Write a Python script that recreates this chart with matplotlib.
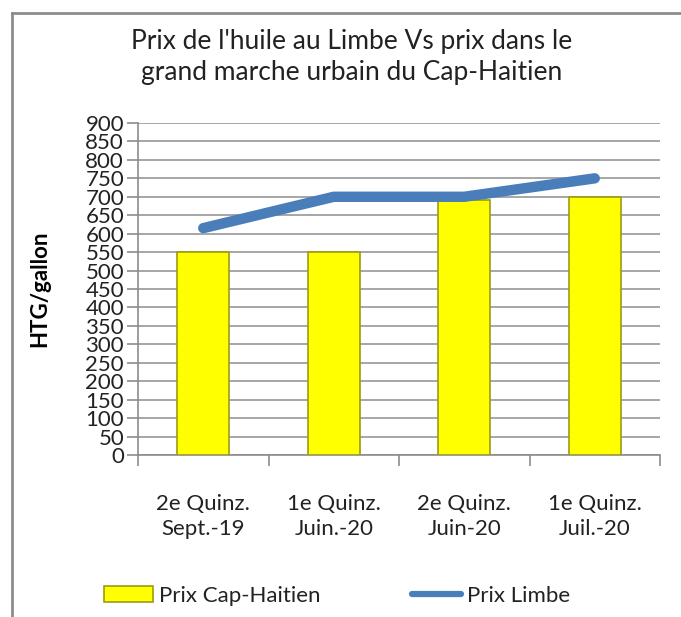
import matplotlib
matplotlib.use("Agg")
import matplotlib.pyplot as plt
from matplotlib.lines import Line2D
from matplotlib.patches import Patch
import numpy as np

plt.rcParams['font.family'] = ['Lato', 'DejaVu Sans']

# data
categories = ["2e Quinz.\nSept.-19", "1e Quinz.\nJuin.-20", "2e Quinz.\nJuin-20", "1e Quinz.\nJuil.-20"]
prix_cap = [550, 550, 690, 700]
prix_limbe = [615, 700, 700, 750]
yticks = list(range(0, 901, 50))

fig = plt.figure(figsize=(6.81, 6.17), dpi=100)
ax = fig.add_axes([138/681, 1-455/617, (660-138)/681, (455-123)/617])

x = np.arange(len(categories))
ax.bar(x, prix_cap, width=0.4, color='#ffff00', edgecolor='#9c9c10', linewidth=1.2, zorder=3)
ax.plot(x, prix_limbe, color='#4a7ebb', linewidth=7.5, solid_capstyle='round', zorder=4)

ax.set_xlim(-0.5, 3.5)
ax.set_ylim(0, 900)
ax.set_yticks(yticks)
ax.set_yticklabels([str(v) for v in yticks], fontsize=16, color='#222222')
ax.tick_params(axis='y', length=8, width=1.2, color='#8c8c8c', pad=2)
ax.yaxis.grid(True, color='#a6a6a6', linewidth=1.4, zorder=0)
ax.set_axisbelow(True)

ax.set_xticks(x)
ax.set_xticklabels(categories, fontsize=16, linespacing=1.3, color='#222222')
ax.set_xticks(np.arange(-0.5, 4, 1), minor=True)
ax.tick_params(axis='x', which='major', length=0, pad=28)
ax.tick_params(axis='x', which='minor', length=8, width=1.2, color='#8c8c8c')

for s in ['top', 'right']:
    ax.spines[s].set_visible(False)
for s in ['left', 'bottom']:
    ax.spines[s].set_color('#8c8c8c')
    ax.spines[s].set_linewidth(1.2)

ax.set_ylabel("HTG/gallon", fontsize=16, fontweight='bold')
ax.yaxis.set_label_coords(-88/522, 0.5)

fig.text(352/681, 1-57/617, "Prix de l'huile au Limbe Vs prix dans le\ngrand marche urbain du Cap-Haitien",
         ha='center', va='center', fontsize=19, linespacing=1.3, color='#222222')

handles = [Patch(facecolor='#ffff00', edgecolor='#9c9c10', linewidth=1.2),
           Line2D([0], [0], color='#4a7ebb', linewidth=4.5, solid_capstyle='round')]
fig.legend(handles, ["Prix Cap-Haitien", "Prix Limbe"], loc='center',
           bbox_to_anchor=(337/681, 1-596/617), ncol=2, frameon=False,
           fontsize=16, handlelength=2.2, handleheight=0.7, handletextpad=0.25,
           columnspacing=4.15, labelcolor='#222222')

# outer chart frame (right and bottom are cut off in the reference)
fig.add_artist(Line2D([12/681, 12/681], [0, 1-13/617], color='#8c8c8c', linewidth=2))
fig.add_artist(Line2D([12/681, 1], [1-13/617, 1-13/617], color='#8c8c8c', linewidth=2))

fig.savefig("out.png", dpi=100)
